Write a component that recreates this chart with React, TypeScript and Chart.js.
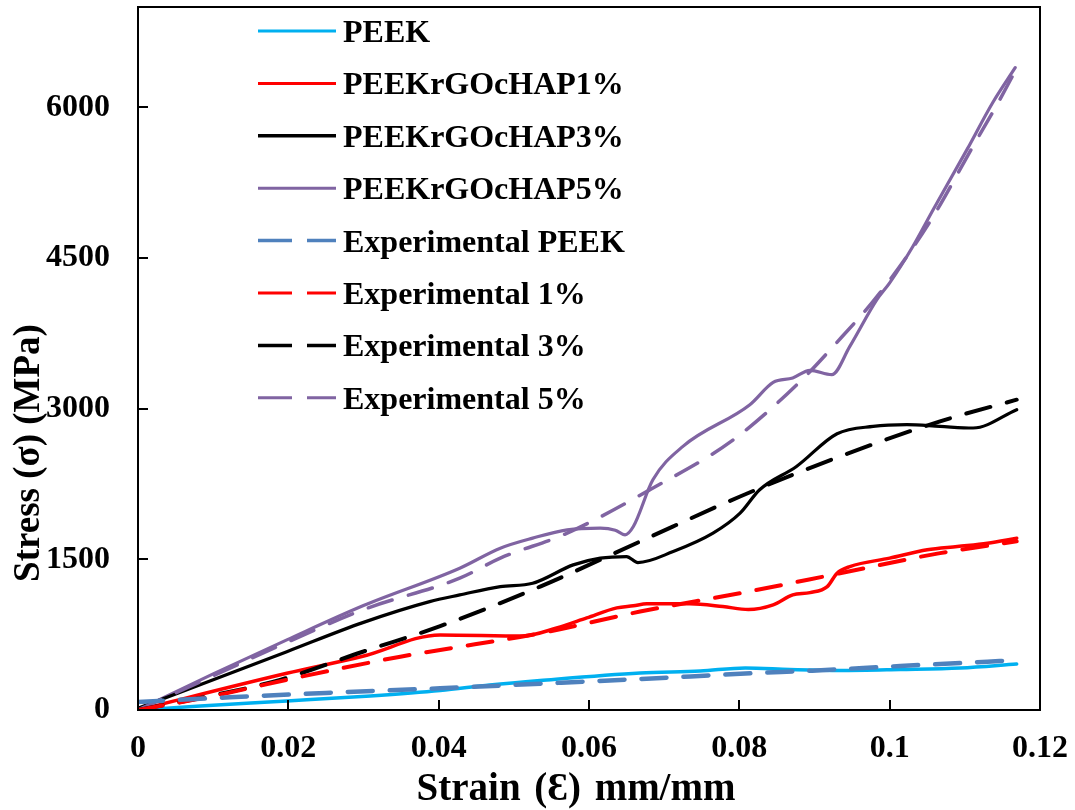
import React, { useEffect, useRef } from "react";
import { Chart, registerables } from "chart.js";

Chart.register(...registerables);

const FONT = '"Liberation Serif", "Times New Roman", "DejaVu Serif", serif';

const X_TICKS = [0, 0.02, 0.04, 0.06, 0.08, 0.1, 0.12];
const X_TICK_LABELS = ["0", "0.02", "0.04", "0.06", "0.08", "0.1", "0.12"];
const Y_TICKS = [0, 1500, 3000, 4500, 6000];
const Y_TICK_LABELS = ["0", "1500", "3000", "4500", "6000"];
const X_TITLE = "Strain (Ɛ) mm/mm";
const Y_TITLE = "Stress (σ) (MPa)";

const SERIES_NAMES = [
  "PEEK",
  "PEEKrGOcHAP1%",
  "PEEKrGOcHAP3%",
  "PEEKrGOcHAP5%",
  "Experimental PEEK",
  "Experimental 1%",
  "Experimental 3%",
  "Experimental 5%",
];

const PEEK_X = [0, 0.0083, 0.0198, 0.0309, 0.0402, 0.0468, 0.0535, 0.0668, 0.0748, 0.0808, 0.0867, 0.0934, 0.1014, 0.1094, 0.1169];
const PEEK_Y = [0, 40, 90, 140, 194, 249, 294, 369, 389, 419, 404, 394, 404, 419, 458];

const P1_X = [0, 0.0198, 0.0299, 0.0402, 0.0512, 0.0557, 0.0597, 0.0637, 0.0659, 0.0677, 0.0734, 0.0778, 0.0812, 0.0845, 0.0871, 0.0894, 0.0917, 0.093, 0.0947, 0.1, 0.105, 0.109, 0.113, 0.1169];
const P1_Y = [0, 366, 535, 748, 738, 817, 917, 1017, 1037, 1057, 1057, 1030, 1000, 1047, 1146, 1169, 1229, 1362, 1428, 1512, 1595, 1628, 1661, 1711];

const P3_X = [0, 0.0198, 0.0299, 0.0388, 0.0428, 0.0482, 0.0525, 0.0579, 0.0615, 0.065, 0.0665, 0.0712, 0.0765, 0.0801, 0.0827, 0.0876, 0.093, 0.0978, 0.1023, 0.1067, 0.1111, 0.1169];
const P3_Y = [17, 581, 870, 1079, 1146, 1229, 1262, 1445, 1512, 1528, 1468, 1578, 1761, 1960, 2193, 2425, 2751, 2824, 2841, 2824, 2808, 2990];

const P5_X = [0, 0.01, 0.0198, 0.03, 0.0428, 0.0482, 0.0525, 0.0571, 0.0615, 0.0635, 0.0648, 0.0659, 0.0685, 0.0725, 0.0814, 0.0845, 0.0871, 0.0894, 0.0923, 0.0947, 0.0983, 0.1, 0.1031, 0.1058, 0.1103, 0.1137, 0.1167];
const P5_Y = [0, 360, 698, 1040, 1412, 1611, 1711, 1794, 1811, 1790, 1744, 1827, 2292, 2625, 3040, 3262, 3306, 3382, 3339, 3621, 4086, 4253, 4618, 4984, 5582, 6047, 6396];

const EXP_PEEK_X = [0, 0.0122, 0.025, 0.0402, 0.0535, 0.0668, 0.0818, 0.0897, 0.1014, 0.113, 0.1153];
const EXP_PEEK_Y = [80, 126, 170, 216, 262, 309, 366, 392, 438, 481, 490];

const EXP1_X = [0, 0.01, 0.0216, 0.0349, 0.0402, 0.0535, 0.0668, 0.0801, 0.0934, 0.1067, 0.1169];
const EXP1_Y = [0, 140, 330, 531, 598, 764, 980, 1163, 1362, 1562, 1680];

const EXP3_X = [0, 0.0083, 0.0189, 0.0299, 0.0402, 0.0535, 0.0668, 0.0801, 0.0934, 0.1067, 0.1169];
const EXP3_Y = [0, 120, 300, 580, 835, 1229, 1678, 2126, 2525, 2874, 3090];

const EXP5_X = [0, 0.01, 0.02, 0.03, 0.0428, 0.0482, 0.0571, 0.0681, 0.0792, 0.0881, 0.0925, 0.0987, 0.1054, 0.1111, 0.1143, 0.1167];
const EXP5_Y = [0, 340, 680, 1000, 1313, 1512, 1761, 2193, 2691, 3272, 3621, 4153, 4867, 5615, 6030, 6362];

const COLORS = ["#00B0F0", "#FF0000", "#000000", "#8064A2", "#4F81BD", "#FF0000", "#000000", "#8064A2"];
const WIDTHS = [3.5, 3.5, 3.2, 3.2, 4.5, 4, 4, 3.5];
const LEGEND_WIDTHS = [3, 3, 3.5, 3, 3.5, 3, 3.5, 3];
const DASHED = [false, false, false, false, true, true, true, true];

const SERIES_X = [PEEK_X, P1_X, P3_X, P5_X, EXP_PEEK_X, EXP1_X, EXP3_X, EXP5_X];
const SERIES_Y = [PEEK_Y, P1_Y, P3_Y, P5_Y, EXP_PEEK_Y, EXP1_Y, EXP3_Y, EXP5_Y];

const decorPlugin = {
  id: "decor",
  afterDatasetsDraw(chart: any) {
    const { ctx, chartArea: a, scales } = chart;
    ctx.save();
    ctx.strokeStyle = "#000";
    ctx.lineWidth = 2;
    ctx.setLineDash([]);
    ctx.strokeRect(a.left, a.top, a.right - a.left, a.bottom - a.top);
    ctx.lineWidth = 2;
    Y_TICKS.forEach((v) => {
      const y = Math.round(scales.y.getPixelForValue(v));
      ctx.beginPath();
      ctx.moveTo(a.left, y);
      ctx.lineTo(a.left + 10, y);
      ctx.stroke();
    });
    X_TICKS.forEach((v) => {
      const x = Math.round(scales.x.getPixelForValue(v));
      ctx.beginPath();
      ctx.moveTo(x, a.bottom);
      ctx.lineTo(x, a.bottom - 10);
      ctx.stroke();
    });

    // legend
    const lx0 = a.left + 120;
    const lx1 = a.left + 198;
    const tx = a.left + 205;
    const rowTop = a.top + 24;
    const rowGap = 52.4;
    ctx.font = `bold 32px ${FONT}`;
    ctx.textAlign = "left";
    ctx.textBaseline = "alphabetic";
    SERIES_NAMES.forEach((name, i) => {
      const y = rowTop + i * rowGap;
      ctx.strokeStyle = COLORS[i];
      ctx.lineWidth = LEGEND_WIDTHS[i];
      ctx.lineCap = "butt";
      ctx.setLineDash(DASHED[i] ? [34, 15] : []);
      ctx.beginPath();
      ctx.moveTo(lx0, y);
      ctx.lineTo(lx1, y);
      ctx.stroke();
      ctx.setLineDash([]);
      ctx.fillStyle = "#000";
      ctx.fillText(name, tx, y + 11);
    });

    // axis titles
    ctx.fillStyle = "#000";
    ctx.textAlign = "center";
    ctx.textBaseline = "alphabetic";
    ctx.font = `bold 39px ${FONT}`;
    try {
      (ctx as any).wordSpacing = "4px";
    } catch (e) {}
    ctx.fillText(X_TITLE, a.left + 438, a.bottom + 90);
    try {
      (ctx as any).wordSpacing = "0px";
    } catch (e) {}
    ctx.font = `bold 37px ${FONT}`;
    ctx.translate(a.left - 99, a.top + 446);
    ctx.rotate(-Math.PI / 2);
    ctx.fillText(Y_TITLE, 0, 0);
    ctx.restore();
  },
};

export default function App() {
  const ref = useRef<HTMLCanvasElement | null>(null);

  useEffect(() => {
    document.body.style.margin = "0";
    const canvas = ref.current;
    if (!canvas) return;
    const datasets = SERIES_NAMES.map((name, i) => ({
      label: name,
      data: SERIES_X[i].map((x, j) => ({ x, y: SERIES_Y[i][j] })),
      borderColor: COLORS[i],
      backgroundColor: COLORS[i],
      borderWidth: WIDTHS[i],
      borderDash: DASHED[i] ? [25, 17] : [],
      borderCapStyle: "round",
      borderJoinStyle: "round",
      pointRadius: 0,
      fill: false,
      cubicInterpolationMode: "monotone",
      order: DASHED[i] ? 0 : 1,
    }));
    const chart = new Chart(canvas, {
      type: "line",
      data: { datasets } as any,
      options: {
        responsive: false,
        animation: false,
        devicePixelRatio: 1,
        layout: { padding: { top: 7, right: 35, left: 0, bottom: 0 } },
        plugins: { legend: { display: false }, tooltip: { enabled: false } },
        scales: {
          x: {
            type: "linear",
            min: 0,
            max: 0.12,
            grid: { display: false, drawTicks: false },
            border: { display: false },
            afterBuildTicks: (s: any) => {
              s.ticks = X_TICKS.map((v) => ({ value: v }));
            },
            afterFit: (s: any) => {
              s.height = 100;
              s.paddingLeft = 0;
              s.paddingRight = 0;
            },
            ticks: {
              padding: 20,
              color: "#000",
              maxRotation: 0,
              autoSkip: false,
              font: { family: FONT, size: 32, weight: "bold" },
              callback: (v: any) => X_TICK_LABELS[X_TICKS.indexOf(Number(v))] ?? "",
            },
          },
          y: {
            type: "linear",
            min: 0,
            max: 7000,
            grid: { display: false, drawTicks: false },
            border: { display: false },
            afterBuildTicks: (s: any) => {
              s.ticks = Y_TICKS.map((v) => ({ value: v }));
            },
            afterFit: (s: any) => {
              s.width = 138;
              s.paddingTop = 0;
              s.paddingBottom = 0;
            },
            ticks: {
              padding: 28,
              color: "#000",
              autoSkip: false,
              font: { family: FONT, size: 32, weight: "bold" },
              callback: (v: any) => Y_TICK_LABELS[Y_TICKS.indexOf(Number(v))] ?? "",
            },
          },
        },
      } as any,
      plugins: [decorPlugin],
    });
    return () => chart.destroy();
  }, []);

  return (
    <canvas
      ref={ref}
      width={1075}
      height={810}
      style={{ display: "block", width: 1075, height: 810 }}
    />
  );
}
